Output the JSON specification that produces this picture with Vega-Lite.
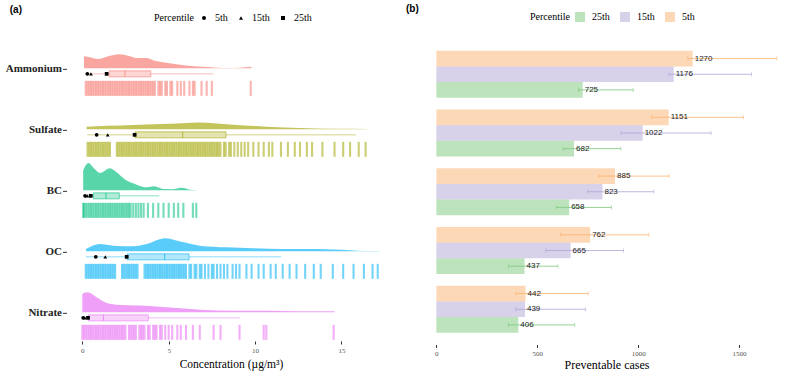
{
  "$schema": "https://vega.github.io/schema/vega-lite/v6.json",
  "padding": {"left": 5, "top": 4, "right": 0, "bottom": 0},
  "config": {
    "view": {"stroke": null},
    "font": "Liberation Serif",
    "axis": {"grid": false, "domain": false, "tickColor": "#333", "tickSize": 3, "labelFont": "Liberation Serif", "labelFontSize": 7, "labelColor": "#555", "titleFont": "Liberation Serif", "titleFontWeight": "normal", "titleColor": "#000"},
    "legend": {"titleFont": "Liberation Serif", "titleFontWeight": "normal", "titleFontSize": 10, "labelFont": "Liberation Serif", "labelFontSize": 10, "labelColor": "#000", "titleColor": "#000"}
  },
  "datasets": {
    "left": [
      {"p":"Ammonium","kind":"density","x":0.1,"d":0.2},{"p":"Ammonium","kind":"density","x":0.5,"d":0.18},{"p":"Ammonium","kind":"density","x":0.9,"d":0.155},{"p":"Ammonium","kind":"density","x":1.5,"d":0.2},{"p":"Ammonium","kind":"density","x":2.16,"d":0.233},{"p":"Ammonium","kind":"density","x":2.65,"d":0.21},{"p":"Ammonium","kind":"density","x":3.13,"d":0.172},{"p":"Ammonium","kind":"density","x":3.7,"d":0.172},{"p":"Ammonium","kind":"density","x":4.19,"d":0.128},{"p":"Ammonium","kind":"density","x":4.96,"d":0.088},{"p":"Ammonium","kind":"density","x":6.12,"d":0.045},{"p":"Ammonium","kind":"density","x":7.28,"d":0.022},{"p":"Ammonium","kind":"density","x":8.05,"d":0.006},{"p":"Ammonium","kind":"density","x":8.82,"d":0.005},{"p":"Ammonium","kind":"density","x":9.4,"d":0.017},{"p":"Ammonium","kind":"density","x":9.78,"d":0.028},
      {"p":"Sulfate","kind":"density","x":0.25,"d":0.045},{"p":"Sulfate","kind":"density","x":1.5,"d":0.058},{"p":"Sulfate","kind":"density","x":2.95,"d":0.072},{"p":"Sulfate","kind":"density","x":4.5,"d":0.087},{"p":"Sulfate","kind":"density","x":5.8,"d":0.103},{"p":"Sulfate","kind":"density","x":6.8,"d":0.112},{"p":"Sulfate","kind":"density","x":7.6,"d":0.1},{"p":"Sulfate","kind":"density","x":8.74,"d":0.078},{"p":"Sulfate","kind":"density","x":10.67,"d":0.045},{"p":"Sulfate","kind":"density","x":12.6,"d":0.022},{"p":"Sulfate","kind":"density","x":14.5,"d":0.008},{"p":"Sulfate","kind":"density","x":16.5,"d":0.007},
      {"p":"BC","kind":"density","x":0.05,"d":0.33},{"p":"BC","kind":"density","x":0.35,"d":0.455},{"p":"BC","kind":"density","x":0.7,"d":0.36},{"p":"BC","kind":"density","x":1.02,"d":0.29},{"p":"BC","kind":"density","x":1.6,"d":0.37},{"p":"BC","kind":"density","x":1.99,"d":0.3},{"p":"BC","kind":"density","x":2.47,"d":0.18},{"p":"BC","kind":"density","x":3.15,"d":0.095},{"p":"BC","kind":"density","x":3.73,"d":0.05},{"p":"BC","kind":"density","x":4.15,"d":0.067},{"p":"BC","kind":"density","x":4.69,"d":0.022},{"p":"BC","kind":"density","x":5.2,"d":0.02},{"p":"BC","kind":"density","x":5.76,"d":0.045},{"p":"BC","kind":"density","x":6.24,"d":0.012},{"p":"BC","kind":"density","x":6.6,"d":0.005},
      {"p":"OC","kind":"density","x":0.21,"d":0.038},{"p":"OC","kind":"density","x":1.02,"d":0.122},{"p":"OC","kind":"density","x":1.8,"d":0.095},{"p":"OC","kind":"density","x":2.95,"d":0.083},{"p":"OC","kind":"density","x":3.73,"d":0.122},{"p":"OC","kind":"density","x":4.79,"d":0.217},{"p":"OC","kind":"density","x":5.66,"d":0.162},{"p":"OC","kind":"density","x":6.8,"d":0.095},{"p":"OC","kind":"density","x":8.36,"d":0.067},{"p":"OC","kind":"density","x":9.9,"d":0.05},{"p":"OC","kind":"density","x":11.6,"d":0.038},{"p":"OC","kind":"density","x":13.6,"d":0.038},{"p":"OC","kind":"density","x":15.5,"d":0.017},{"p":"OC","kind":"density","x":16.3,"d":0.006},{"p":"OC","kind":"density","x":17.2,"d":0.006},
      {"p":"Nitrate","kind":"density","x":0.0,"d":0.305},{"p":"Nitrate","kind":"density","x":0.29,"d":0.333},{"p":"Nitrate","kind":"density","x":0.83,"d":0.25},{"p":"Nitrate","kind":"density","x":1.41,"d":0.155},{"p":"Nitrate","kind":"density","x":1.99,"d":0.128},{"p":"Nitrate","kind":"density","x":3.34,"d":0.112},{"p":"Nitrate","kind":"density","x":4.89,"d":0.083},{"p":"Nitrate","kind":"density","x":6.82,"d":0.045},{"p":"Nitrate","kind":"density","x":8.74,"d":0.028},{"p":"Nitrate","kind":"density","x":10.7,"d":0.028},{"p":"Nitrate","kind":"density","x":12.6,"d":0.017},{"p":"Nitrate","kind":"density","x":14.6,"d":0.017},

      {"p":"Ammonium","kind":"box","lo":0.21,"q1":1.55,"med":2.47,"q3":3.96,"hi":7.59},
      {"p":"Sulfate","kind":"box","lo":0.29,"q1":3.05,"med":5.81,"q3":8.32,"hi":15.85},
      {"p":"BC","kind":"box","lo":0.06,"q1":0.64,"med":1.37,"q3":2.14,"hi":4.46},
      {"p":"OC","kind":"box","lo":0.21,"q1":2.6,"med":4.77,"q3":6.18,"hi":11.5},
      {"p":"Nitrate","kind":"box","lo":0.06,"q1":0.35,"med":1.22,"q3":3.82,"hi":9.13},

      {"p":"Ammonium","kind":"pct","pct":"5th","x":0.29},{"p":"Ammonium","kind":"pct","pct":"15th","x":0.5},{"p":"Ammonium","kind":"pct","pct":"25th","x":1.41},
      {"p":"Sulfate","kind":"pct","pct":"5th","x":0.83},{"p":"Sulfate","kind":"pct","pct":"15th","x":1.47},{"p":"Sulfate","kind":"pct","pct":"25th","x":3.03},
      {"p":"BC","kind":"pct","pct":"5th","x":0.16},{"p":"BC","kind":"pct","pct":"15th","x":0.29},{"p":"BC","kind":"pct","pct":"25th","x":0.49},
      {"p":"OC","kind":"pct","pct":"5th","x":0.78},{"p":"OC","kind":"pct","pct":"15th","x":1.33},{"p":"OC","kind":"pct","pct":"25th","x":2.57},
      {"p":"Nitrate","kind":"pct","pct":"5th","x":0.05},{"p":"Nitrate","kind":"pct","pct":"15th","x":0.15},{"p":"Nitrate","kind":"pct","pct":"25th","x":0.33},

      {"p":"Ammonium","kind":"obs","x":0.2},{"p":"Ammonium","kind":"obs","x":0.3},{"p":"Ammonium","kind":"obs","x":0.4},{"p":"Ammonium","kind":"obs","x":0.5},{"p":"Ammonium","kind":"obs","x":0.6},{"p":"Ammonium","kind":"obs","x":0.7},{"p":"Ammonium","kind":"obs","x":0.8},{"p":"Ammonium","kind":"obs","x":0.9},{"p":"Ammonium","kind":"obs","x":1.0},{"p":"Ammonium","kind":"obs","x":1.1},{"p":"Ammonium","kind":"obs","x":1.2},{"p":"Ammonium","kind":"obs","x":1.3},{"p":"Ammonium","kind":"obs","x":1.4},{"p":"Ammonium","kind":"obs","x":1.5},{"p":"Ammonium","kind":"obs","x":1.6},{"p":"Ammonium","kind":"obs","x":1.7},{"p":"Ammonium","kind":"obs","x":1.8},{"p":"Ammonium","kind":"obs","x":1.9},{"p":"Ammonium","kind":"obs","x":2.0},{"p":"Ammonium","kind":"obs","x":2.1},{"p":"Ammonium","kind":"obs","x":2.2},{"p":"Ammonium","kind":"obs","x":2.3},{"p":"Ammonium","kind":"obs","x":2.4},{"p":"Ammonium","kind":"obs","x":2.5},{"p":"Ammonium","kind":"obs","x":2.6},{"p":"Ammonium","kind":"obs","x":2.7},{"p":"Ammonium","kind":"obs","x":2.8},{"p":"Ammonium","kind":"obs","x":2.9},{"p":"Ammonium","kind":"obs","x":3.0},{"p":"Ammonium","kind":"obs","x":3.1},{"p":"Ammonium","kind":"obs","x":3.2},{"p":"Ammonium","kind":"obs","x":3.3},{"p":"Ammonium","kind":"obs","x":3.4},{"p":"Ammonium","kind":"obs","x":3.5},{"p":"Ammonium","kind":"obs","x":3.6},{"p":"Ammonium","kind":"obs","x":3.7},{"p":"Ammonium","kind":"obs","x":3.8},{"p":"Ammonium","kind":"obs","x":3.9},{"p":"Ammonium","kind":"obs","x":4.0},{"p":"Ammonium","kind":"obs","x":4.1},{"p":"Ammonium","kind":"obs","x":4.2},{"p":"Ammonium","kind":"obs","x":4.4},{"p":"Ammonium","kind":"obs","x":4.5},{"p":"Ammonium","kind":"obs","x":4.6},{"p":"Ammonium","kind":"obs","x":4.8},{"p":"Ammonium","kind":"obs","x":4.9},{"p":"Ammonium","kind":"obs","x":5.1},{"p":"Ammonium","kind":"obs","x":5.2},{"p":"Ammonium","kind":"obs","x":5.5},{"p":"Ammonium","kind":"obs","x":5.7},{"p":"Ammonium","kind":"obs","x":5.9},{"p":"Ammonium","kind":"obs","x":6.2},{"p":"Ammonium","kind":"obs","x":6.4},{"p":"Ammonium","kind":"obs","x":6.5},{"p":"Ammonium","kind":"obs","x":6.9},{"p":"Ammonium","kind":"obs","x":7.2},{"p":"Ammonium","kind":"obs","x":7.5},{"p":"Ammonium","kind":"obs","x":9.75},

      {"p":"Sulfate","kind":"obs","x":0.3},{"p":"Sulfate","kind":"obs","x":0.4},{"p":"Sulfate","kind":"obs","x":0.5},{"p":"Sulfate","kind":"obs","x":0.6},{"p":"Sulfate","kind":"obs","x":0.7},{"p":"Sulfate","kind":"obs","x":0.8},{"p":"Sulfate","kind":"obs","x":0.9},{"p":"Sulfate","kind":"obs","x":1.0},{"p":"Sulfate","kind":"obs","x":1.1},{"p":"Sulfate","kind":"obs","x":1.2},{"p":"Sulfate","kind":"obs","x":1.3},{"p":"Sulfate","kind":"obs","x":1.4},{"p":"Sulfate","kind":"obs","x":1.5},{"p":"Sulfate","kind":"obs","x":1.6},{"p":"Sulfate","kind":"obs","x":2.0},{"p":"Sulfate","kind":"obs","x":2.1},{"p":"Sulfate","kind":"obs","x":2.2},{"p":"Sulfate","kind":"obs","x":2.3},{"p":"Sulfate","kind":"obs","x":2.4},{"p":"Sulfate","kind":"obs","x":2.5},{"p":"Sulfate","kind":"obs","x":2.6},{"p":"Sulfate","kind":"obs","x":2.7},{"p":"Sulfate","kind":"obs","x":2.8},{"p":"Sulfate","kind":"obs","x":2.9},{"p":"Sulfate","kind":"obs","x":3.0},{"p":"Sulfate","kind":"obs","x":3.1},{"p":"Sulfate","kind":"obs","x":3.2},{"p":"Sulfate","kind":"obs","x":3.3},{"p":"Sulfate","kind":"obs","x":3.4},{"p":"Sulfate","kind":"obs","x":3.5},{"p":"Sulfate","kind":"obs","x":3.6},{"p":"Sulfate","kind":"obs","x":3.7},{"p":"Sulfate","kind":"obs","x":3.8},{"p":"Sulfate","kind":"obs","x":3.9},{"p":"Sulfate","kind":"obs","x":4.0},{"p":"Sulfate","kind":"obs","x":4.1},{"p":"Sulfate","kind":"obs","x":4.2},{"p":"Sulfate","kind":"obs","x":4.3},{"p":"Sulfate","kind":"obs","x":4.4},{"p":"Sulfate","kind":"obs","x":4.5},{"p":"Sulfate","kind":"obs","x":4.6},{"p":"Sulfate","kind":"obs","x":4.7},{"p":"Sulfate","kind":"obs","x":4.8},{"p":"Sulfate","kind":"obs","x":4.9},{"p":"Sulfate","kind":"obs","x":5.0},{"p":"Sulfate","kind":"obs","x":5.1},{"p":"Sulfate","kind":"obs","x":5.2},{"p":"Sulfate","kind":"obs","x":5.3},{"p":"Sulfate","kind":"obs","x":5.4},{"p":"Sulfate","kind":"obs","x":5.5},{"p":"Sulfate","kind":"obs","x":5.6},{"p":"Sulfate","kind":"obs","x":5.7},{"p":"Sulfate","kind":"obs","x":5.8},{"p":"Sulfate","kind":"obs","x":5.9},{"p":"Sulfate","kind":"obs","x":6.0},{"p":"Sulfate","kind":"obs","x":6.1},{"p":"Sulfate","kind":"obs","x":6.2},{"p":"Sulfate","kind":"obs","x":6.3},{"p":"Sulfate","kind":"obs","x":6.4},{"p":"Sulfate","kind":"obs","x":6.5},{"p":"Sulfate","kind":"obs","x":6.6},{"p":"Sulfate","kind":"obs","x":6.7},{"p":"Sulfate","kind":"obs","x":6.8},{"p":"Sulfate","kind":"obs","x":6.9},{"p":"Sulfate","kind":"obs","x":7.0},{"p":"Sulfate","kind":"obs","x":7.1},{"p":"Sulfate","kind":"obs","x":7.2},{"p":"Sulfate","kind":"obs","x":7.3},{"p":"Sulfate","kind":"obs","x":7.4},{"p":"Sulfate","kind":"obs","x":7.5},{"p":"Sulfate","kind":"obs","x":7.6},{"p":"Sulfate","kind":"obs","x":7.7},{"p":"Sulfate","kind":"obs","x":7.8},{"p":"Sulfate","kind":"obs","x":7.9},{"p":"Sulfate","kind":"obs","x":8.0},{"p":"Sulfate","kind":"obs","x":8.2},{"p":"Sulfate","kind":"obs","x":8.3},{"p":"Sulfate","kind":"obs","x":8.5},{"p":"Sulfate","kind":"obs","x":8.6},{"p":"Sulfate","kind":"obs","x":8.8},{"p":"Sulfate","kind":"obs","x":9.0},{"p":"Sulfate","kind":"obs","x":9.2},{"p":"Sulfate","kind":"obs","x":9.4},{"p":"Sulfate","kind":"obs","x":9.6},{"p":"Sulfate","kind":"obs","x":9.9},{"p":"Sulfate","kind":"obs","x":10.2},{"p":"Sulfate","kind":"obs","x":10.5},{"p":"Sulfate","kind":"obs","x":10.8},{"p":"Sulfate","kind":"obs","x":11.0},{"p":"Sulfate","kind":"obs","x":11.5},{"p":"Sulfate","kind":"obs","x":11.9},{"p":"Sulfate","kind":"obs","x":12.3},{"p":"Sulfate","kind":"obs","x":12.6},{"p":"Sulfate","kind":"obs","x":13.0},{"p":"Sulfate","kind":"obs","x":13.3},{"p":"Sulfate","kind":"obs","x":13.9},{"p":"Sulfate","kind":"obs","x":14.6},{"p":"Sulfate","kind":"obs","x":15.1},{"p":"Sulfate","kind":"obs","x":15.5},{"p":"Sulfate","kind":"obs","x":16.0},{"p":"Sulfate","kind":"obs","x":16.4},

      {"p":"BC","kind":"obs","x":0.05},{"p":"BC","kind":"obs","x":0.1},{"p":"BC","kind":"obs","x":0.2},{"p":"BC","kind":"obs","x":0.3},{"p":"BC","kind":"obs","x":0.4},{"p":"BC","kind":"obs","x":0.5},{"p":"BC","kind":"obs","x":0.6},{"p":"BC","kind":"obs","x":0.7},{"p":"BC","kind":"obs","x":0.8},{"p":"BC","kind":"obs","x":0.9},{"p":"BC","kind":"obs","x":1.0},{"p":"BC","kind":"obs","x":1.1},{"p":"BC","kind":"obs","x":1.2},{"p":"BC","kind":"obs","x":1.3},{"p":"BC","kind":"obs","x":1.4},{"p":"BC","kind":"obs","x":1.5},{"p":"BC","kind":"obs","x":1.6},{"p":"BC","kind":"obs","x":1.7},{"p":"BC","kind":"obs","x":1.8},{"p":"BC","kind":"obs","x":1.9},{"p":"BC","kind":"obs","x":2.0},{"p":"BC","kind":"obs","x":2.1},{"p":"BC","kind":"obs","x":2.2},{"p":"BC","kind":"obs","x":2.3},{"p":"BC","kind":"obs","x":2.4},{"p":"BC","kind":"obs","x":2.5},{"p":"BC","kind":"obs","x":2.6},{"p":"BC","kind":"obs","x":2.7},{"p":"BC","kind":"obs","x":2.8},{"p":"BC","kind":"obs","x":2.95},{"p":"BC","kind":"obs","x":3.1},{"p":"BC","kind":"obs","x":3.25},{"p":"BC","kind":"obs","x":3.4},{"p":"BC","kind":"obs","x":3.55},{"p":"BC","kind":"obs","x":3.8},{"p":"BC","kind":"obs","x":4.1},{"p":"BC","kind":"obs","x":4.4},{"p":"BC","kind":"obs","x":4.7},{"p":"BC","kind":"obs","x":5.0},{"p":"BC","kind":"obs","x":5.3},{"p":"BC","kind":"obs","x":5.55},{"p":"BC","kind":"obs","x":5.85},{"p":"BC","kind":"obs","x":6.4},{"p":"BC","kind":"obs","x":6.6},

      {"p":"OC","kind":"obs","x":0.2},{"p":"OC","kind":"obs","x":0.3},{"p":"OC","kind":"obs","x":0.4},{"p":"OC","kind":"obs","x":0.5},{"p":"OC","kind":"obs","x":0.6},{"p":"OC","kind":"obs","x":0.7},{"p":"OC","kind":"obs","x":0.8},{"p":"OC","kind":"obs","x":0.9},{"p":"OC","kind":"obs","x":1.0},{"p":"OC","kind":"obs","x":1.1},{"p":"OC","kind":"obs","x":1.2},{"p":"OC","kind":"obs","x":1.3},{"p":"OC","kind":"obs","x":1.4},{"p":"OC","kind":"obs","x":1.5},{"p":"OC","kind":"obs","x":1.6},{"p":"OC","kind":"obs","x":1.7},{"p":"OC","kind":"obs","x":1.8},{"p":"OC","kind":"obs","x":1.9},{"p":"OC","kind":"obs","x":2.3},{"p":"OC","kind":"obs","x":2.4},{"p":"OC","kind":"obs","x":2.5},{"p":"OC","kind":"obs","x":2.6},{"p":"OC","kind":"obs","x":2.7},{"p":"OC","kind":"obs","x":2.8},{"p":"OC","kind":"obs","x":2.9},{"p":"OC","kind":"obs","x":3.0},{"p":"OC","kind":"obs","x":3.1},{"p":"OC","kind":"obs","x":3.2},{"p":"OC","kind":"obs","x":3.6},{"p":"OC","kind":"obs","x":3.7},{"p":"OC","kind":"obs","x":3.8},{"p":"OC","kind":"obs","x":3.9},{"p":"OC","kind":"obs","x":4.0},{"p":"OC","kind":"obs","x":4.1},{"p":"OC","kind":"obs","x":4.2},{"p":"OC","kind":"obs","x":4.3},{"p":"OC","kind":"obs","x":4.4},{"p":"OC","kind":"obs","x":4.5},{"p":"OC","kind":"obs","x":4.6},{"p":"OC","kind":"obs","x":4.7},{"p":"OC","kind":"obs","x":4.8},{"p":"OC","kind":"obs","x":4.9},{"p":"OC","kind":"obs","x":5.0},{"p":"OC","kind":"obs","x":5.1},{"p":"OC","kind":"obs","x":5.2},{"p":"OC","kind":"obs","x":5.3},{"p":"OC","kind":"obs","x":5.4},{"p":"OC","kind":"obs","x":5.5},{"p":"OC","kind":"obs","x":5.6},{"p":"OC","kind":"obs","x":5.7},{"p":"OC","kind":"obs","x":5.8},{"p":"OC","kind":"obs","x":5.9},{"p":"OC","kind":"obs","x":6.0},{"p":"OC","kind":"obs","x":6.2},{"p":"OC","kind":"obs","x":6.3},{"p":"OC","kind":"obs","x":6.5},{"p":"OC","kind":"obs","x":6.6},{"p":"OC","kind":"obs","x":6.8},{"p":"OC","kind":"obs","x":6.9},{"p":"OC","kind":"obs","x":7.1},{"p":"OC","kind":"obs","x":7.3},{"p":"OC","kind":"obs","x":7.5},{"p":"OC","kind":"obs","x":7.6},{"p":"OC","kind":"obs","x":7.8},{"p":"OC","kind":"obs","x":8.0},{"p":"OC","kind":"obs","x":8.2},{"p":"OC","kind":"obs","x":8.4},{"p":"OC","kind":"obs","x":8.7},{"p":"OC","kind":"obs","x":8.9},{"p":"OC","kind":"obs","x":9.1},{"p":"OC","kind":"obs","x":9.5},{"p":"OC","kind":"obs","x":9.8},{"p":"OC","kind":"obs","x":10.2},{"p":"OC","kind":"obs","x":10.5},{"p":"OC","kind":"obs","x":10.9},{"p":"OC","kind":"obs","x":11.2},{"p":"OC","kind":"obs","x":11.6},{"p":"OC","kind":"obs","x":12.0},{"p":"OC","kind":"obs","x":12.4},{"p":"OC","kind":"obs","x":12.9},{"p":"OC","kind":"obs","x":13.4},{"p":"OC","kind":"obs","x":13.8},{"p":"OC","kind":"obs","x":14.5},{"p":"OC","kind":"obs","x":15.1},{"p":"OC","kind":"obs","x":15.7},{"p":"OC","kind":"obs","x":16.3},{"p":"OC","kind":"obs","x":16.8},{"p":"OC","kind":"obs","x":17.1},

      {"p":"Nitrate","kind":"obs","x":0.0},{"p":"Nitrate","kind":"obs","x":0.1},{"p":"Nitrate","kind":"obs","x":0.2},{"p":"Nitrate","kind":"obs","x":0.3},{"p":"Nitrate","kind":"obs","x":0.4},{"p":"Nitrate","kind":"obs","x":0.5},{"p":"Nitrate","kind":"obs","x":0.6},{"p":"Nitrate","kind":"obs","x":0.7},{"p":"Nitrate","kind":"obs","x":0.8},{"p":"Nitrate","kind":"obs","x":0.9},{"p":"Nitrate","kind":"obs","x":1.0},{"p":"Nitrate","kind":"obs","x":1.1},{"p":"Nitrate","kind":"obs","x":1.2},{"p":"Nitrate","kind":"obs","x":1.3},{"p":"Nitrate","kind":"obs","x":1.4},{"p":"Nitrate","kind":"obs","x":1.5},{"p":"Nitrate","kind":"obs","x":1.6},{"p":"Nitrate","kind":"obs","x":1.7},{"p":"Nitrate","kind":"obs","x":1.8},{"p":"Nitrate","kind":"obs","x":1.9},{"p":"Nitrate","kind":"obs","x":2.0},{"p":"Nitrate","kind":"obs","x":2.1},{"p":"Nitrate","kind":"obs","x":2.2},{"p":"Nitrate","kind":"obs","x":2.3},{"p":"Nitrate","kind":"obs","x":2.4},{"p":"Nitrate","kind":"obs","x":2.5},{"p":"Nitrate","kind":"obs","x":2.7},{"p":"Nitrate","kind":"obs","x":2.8},{"p":"Nitrate","kind":"obs","x":2.9},{"p":"Nitrate","kind":"obs","x":3.0},{"p":"Nitrate","kind":"obs","x":3.1},{"p":"Nitrate","kind":"obs","x":3.3},{"p":"Nitrate","kind":"obs","x":3.4},{"p":"Nitrate","kind":"obs","x":3.5},{"p":"Nitrate","kind":"obs","x":3.6},{"p":"Nitrate","kind":"obs","x":3.8},{"p":"Nitrate","kind":"obs","x":3.9},{"p":"Nitrate","kind":"obs","x":4.1},{"p":"Nitrate","kind":"obs","x":4.2},{"p":"Nitrate","kind":"obs","x":4.3},{"p":"Nitrate","kind":"obs","x":4.5},{"p":"Nitrate","kind":"obs","x":4.6},{"p":"Nitrate","kind":"obs","x":4.8},{"p":"Nitrate","kind":"obs","x":5.0},{"p":"Nitrate","kind":"obs","x":5.2},{"p":"Nitrate","kind":"obs","x":5.5},{"p":"Nitrate","kind":"obs","x":5.7},{"p":"Nitrate","kind":"obs","x":6.0},{"p":"Nitrate","kind":"obs","x":6.4},{"p":"Nitrate","kind":"obs","x":6.8},{"p":"Nitrate","kind":"obs","x":7.6},{"p":"Nitrate","kind":"obs","x":8.0},{"p":"Nitrate","kind":"obs","x":9.1},{"p":"Nitrate","kind":"obs","x":10.5},{"p":"Nitrate","kind":"obs","x":10.65},{"p":"Nitrate","kind":"obs","x":14.55}
    ],
    "bars": [
      {"p":"Ammonium","pct":"5th","v":1270,"lo":1246,"hi":1687},
      {"p":"Ammonium","pct":"15th","v":1176,"lo":1153,"hi":1561},
      {"p":"Ammonium","pct":"25th","v":725,"lo":704,"hi":975},
      {"p":"Sulfate","pct":"5th","v":1151,"lo":1066,"hi":1521},
      {"p":"Sulfate","pct":"15th","v":1022,"lo":914,"hi":1361},
      {"p":"Sulfate","pct":"25th","v":682,"lo":628,"hi":914},
      {"p":"BC","pct":"5th","v":885,"lo":803,"hi":1153},
      {"p":"BC","pct":"15th","v":823,"lo":750,"hi":1077},
      {"p":"BC","pct":"25th","v":658,"lo":595,"hi":867},
      {"p":"OC","pct":"5th","v":762,"lo":615,"hi":1053},
      {"p":"OC","pct":"15th","v":665,"lo":542,"hi":927},
      {"p":"OC","pct":"25th","v":437,"lo":357,"hi":602},
      {"p":"Nitrate","pct":"5th","v":442,"lo":393,"hi":752},
      {"p":"Nitrate","pct":"15th","v":439,"lo":393,"hi":739},
      {"p":"Nitrate","pct":"25th","v":406,"lo":357,"hi":686}
    ]
  },
  "spacing": 11,
  "resolve": {"scale": {"color": "independent", "fill": "independent", "stroke": "independent", "shape": "independent", "x": "independent", "y": "independent"}},
  "hconcat": [
    {
      "title": {"text": "(a)", "anchor": "start", "font": "Liberation Sans", "fontSize": 10, "fontWeight": "bold", "color": "#000", "frame": "bounds", "offset": -2, "dx": 4},
      "data": {"name": "left"},
      "facet": {"row": {"field": "p", "type": "nominal", "sort": ["Ammonium","Sulfate","BC","OC","Nitrate"], "header": {"title": null, "labels": false}}},
      "spacing": {"row": 0},
      "spec": {
        "width": 328,
        "height": 60.7,
        "layer": [
          {
            "transform": [{"filter": "datum.kind === 'density'"}],
            "mark": {"type": "area", "opacity": 0.65, "interpolate": "monotone"},
            "encoding": {
              "x": {"field": "x", "type": "quantitative", "title": "Concentration (µg/m³)", "scale": {"domain": [-0.886, 18.1], "nice": false, "zero": false}, "axis": {"values": [0,5,10,15], "offset": -3, "titleFontSize": 11.5, "titlePadding": 5, "labelPadding": 2}},
              "y": {"field": "d", "type": "quantitative", "title": null, "scale": {"domain": [-0.5225, 0.489], "nice": false, "zero": false}, "axis": null},
              "y2": {"datum": 0},
              "fill": {"field": "p", "type": "nominal", "scale": {"domain": ["Ammonium","Sulfate","BC","OC","Nitrate"], "range": ["#F8766D","#A3A500","#00BF7D","#00B0F6","#E76BF3"]}, "legend": null}
            }
          },
          {
            "transform": [{"filter": "datum.kind === 'obs'"}],
            "mark": {"type": "rule", "strokeWidth": 2.1, "opacity": 0.55},
            "encoding": {
              "x": {"field": "x", "type": "quantitative", "title": "Concentration (µg/m³)"},
              "y": {"datum": -0.208},
              "y2": {"datum": -0.458},
              "stroke": {"field": "p", "type": "nominal", "scale": {"domain": ["Ammonium","Sulfate","BC","OC","Nitrate"], "range": ["#F8766D","#A3A500","#00BF7D","#00B0F6","#E76BF3"]}, "legend": null}
            }
          },
          {
            "transform": [{"filter": "datum.kind === 'box'"}],
            "mark": {"type": "rule", "strokeWidth": 0.8, "opacity": 0.6},
            "encoding": {
              "x": {"field": "lo", "type": "quantitative", "title": "Concentration (µg/m³)"},
              "x2": {"field": "hi"},
              "y": {"datum": -0.0917},
              "stroke": {"field": "p", "type": "nominal", "legend": null}
            }
          },
          {
            "transform": [{"filter": "datum.kind === 'box'"}],
            "mark": {"type": "rect", "fill": "white"},
            "encoding": {
              "x": {"field": "q1", "type": "quantitative", "title": "Concentration (µg/m³)"},
              "x2": {"field": "q3"},
              "y": {"datum": -0.1417},
              "y2": {"datum": -0.0417}
            }
          },
          {
            "transform": [{"filter": "datum.kind === 'box'"}],
            "mark": {"type": "rect", "fillOpacity": 0.3, "strokeWidth": 0.8, "strokeOpacity": 0.7},
            "encoding": {
              "x": {"field": "q1", "type": "quantitative", "title": "Concentration (µg/m³)"},
              "x2": {"field": "q3"},
              "y": {"datum": -0.1417},
              "y2": {"datum": -0.0417},
              "fill": {"field": "p", "type": "nominal", "legend": null},
              "stroke": {"field": "p", "type": "nominal", "legend": null}
            }
          },
          {
            "transform": [{"filter": "datum.kind === 'box'"}],
            "mark": {"type": "rule", "strokeWidth": 0.9, "opacity": 0.8},
            "encoding": {
              "x": {"field": "med", "type": "quantitative", "title": "Concentration (µg/m³)"},
              "y": {"datum": -0.1417},
              "y2": {"datum": -0.0417},
              "stroke": {"field": "p", "type": "nominal", "legend": null}
            }
          },
          {
            "transform": [{"filter": "datum.kind === 'box'"}],
            "mark": {"type": "rule", "strokeWidth": 1, "color": "#333"},
            "encoding": {
              "x": {"datum": -1.12},
              "x2": {"datum": -0.886},
              "y": {"datum": -0.0167}
            }
          },
          {
            "transform": [{"filter": "datum.kind === 'box'"}],
            "mark": {"type": "text", "align": "right", "baseline": "middle", "dx": -5, "font": "Liberation Serif", "fontSize": 11, "fontWeight": "bold", "color": "#222"},
            "encoding": {
              "x": {"datum": -0.886},
              "y": {"datum": -0.0167},
              "text": {"field": "p", "type": "nominal"}
            }
          },
          {
            "transform": [{"filter": "datum.kind === 'pct'"}],
            "mark": {"type": "point", "filled": true, "size": 14, "opacity": 1, "color": "black"},
            "encoding": {
              "x": {"field": "x", "type": "quantitative", "title": "Concentration (µg/m³)"},
              "y": {"datum": -0.0917},
              "shape": {"field": "pct", "type": "nominal", "scale": {"domain": ["5th","15th","25th"], "range": ["circle","triangle-up","square"]},
                "legend": {"title": "Percentile", "orient": "none", "legendX": 87, "legendY": -26, "direction": "horizontal", "titleOrient": "left", "symbolSize": 16, "symbolFillColor": "black", "symbolStrokeColor": "black", "columnPadding": 8, "labelOffset": 6}}
            }
          }
        ]
      }
    },
    {
      "title": {"text": "(b)", "anchor": "start", "font": "Liberation Sans", "fontSize": 10, "fontWeight": "bold", "color": "#000", "frame": "bounds", "offset": -2, "dx": -13},
      "data": {"name": "bars"},
      "width": 375,
      "height": 305.5,
      "encoding": {
        "y": {"field": "p", "type": "nominal", "sort": ["Ammonium","Sulfate","BC","OC","Nitrate"], "scale": {"paddingInner": 0.2, "paddingOuter": 0.2}, "axis": null},
        "yOffset": {"field": "pct", "type": "nominal", "sort": ["5th","15th","25th"], "scale": {"paddingInner": 0, "paddingOuter": 0}},
        "color": {"field": "pct", "type": "nominal", "scale": {"domain": ["25th","15th","5th"], "range": ["#7BC87B","#B0A4D6","#FBB16D"]},
          "legend": {"title": "Percentile", "orient": "none", "legendX": 111, "legendY": -27, "direction": "horizontal", "titleOrient": "left", "symbolType": "square", "symbolSize": 100, "symbolOpacity": 0.5, "symbolStrokeWidth": 0, "columnPadding": 10, "labelOffset": 7}}
      },
      "layer": [
        {
          "mark": {"type": "bar", "opacity": 0.5},
          "encoding": {
            "x": {"field": "v", "type": "quantitative", "title": "Preventable cases", "scale": {"domain": [-86, 1772], "nice": false, "zero": false}, "axis": {"values": [0,500,1000,1500], "format": "d", "titleFontSize": 12, "titlePadding": 3, "labelPadding": 2}},
            "x2": {"datum": 0}
          }
        },
        {
          "mark": {"type": "rule", "strokeWidth": 0.8},
          "encoding": {
            "x": {"field": "lo", "type": "quantitative", "title": "Preventable cases"},
            "x2": {"field": "hi"}
          }
        },
        {
          "mark": {"type": "tick", "size": 4, "thickness": 0.8},
          "encoding": {"x": {"field": "lo", "type": "quantitative", "title": "Preventable cases"}}
        },
        {
          "mark": {"type": "tick", "size": 4, "thickness": 0.8},
          "encoding": {"x": {"field": "hi", "type": "quantitative", "title": "Preventable cases"}}
        },
        {
          "mark": {"type": "text", "align": "left", "dx": 2, "font": "Liberation Sans", "fontSize": 8},
          "encoding": {
            "x": {"field": "v", "type": "quantitative", "title": "Preventable cases"},
            "text": {"field": "v", "type": "quantitative"},
            "color": {"value": "#222"}
          }
        }
      ]
    }
  ]
}
